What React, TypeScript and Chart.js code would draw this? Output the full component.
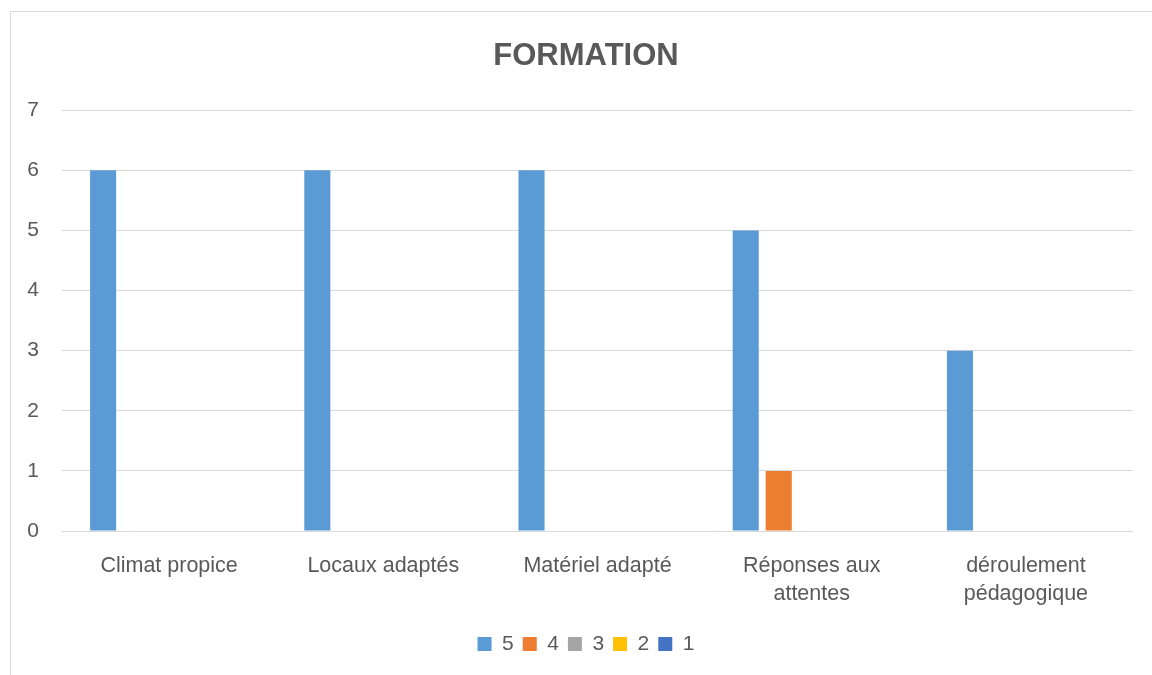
import React, { useEffect, useRef } from "react";
import { Chart, registerables } from "chart.js";

Chart.register(...registerables);

const categories: (string | string[])[] = [
  "Climat propice",
  "Locaux adaptés",
  "Matériel adapté",
  ["Réponses aux", "attentes"],
  ["déroulement", "pédagogique"],
];
const seriesNames = ["5", "4", "3", "2", "1"];
const values5 = [6, 6, 6, 5, 3];
const values4 = [0, 0, 0, 1, 0];
const values3 = [0, 0, 0, 0, 0];
const values2 = [0, 0, 0, 0, 0];
const values1 = [0, 0, 0, 0, 0];
const seriesColors = ["#5B9BD5", "#ED7D31", "#A5A5A5", "#FFC000", "#4472C4"];
const titleText = "FORMATION";

const FONT = "'Liberation Sans', Arial, sans-serif";
const TEXT = "#595959";

export default function App() {
  const ref = useRef<HTMLCanvasElement | null>(null);
  useEffect(() => {
    if (!ref.current) return;
    const all = [values5, values4, values3, values2, values1];
    const chart = new Chart(ref.current, {
      type: "bar",
      data: {
        labels: categories,
        datasets: all.map((v, i) => ({
          label: seriesNames[i],
          data: v,
          backgroundColor: seriesColors[i],
          borderWidth: 0,
          categoryPercentage: 0.77,
          barPercentage: 0.79,
          yAxisID: "y",
        })),
      },
      options: {
        animation: false,
        responsive: false,
        devicePixelRatio: 1,
        layout: { padding: { left: 0, right: 0, top: 0, bottom: 27.5 } },
        plugins: {
          title: {
            display: true,
            text: titleText,
            color: TEXT,
            font: { family: FONT, size: 31, weight: "bold", lineHeight: 1.2 },
            padding: { top: 26, bottom: 35 },
          },
          legend: {
            display: true,
            position: "bottom",
            labels: {
              color: TEXT,
              font: { family: FONT, size: 21 },
              boxWidth: 14,
              boxHeight: 14,
              padding: 9,
            },
          },
          tooltip: { enabled: false },
        },
        scales: {
          x: {
            grid: { display: false },
            border: { display: false },
            ticks: {
              color: TEXT,
              font: { family: FONT, size: 21.5, lineHeight: 1.3 },
              padding: 13,
              autoSkip: false,
              maxRotation: 0,
              minRotation: 0,
            },
            afterFit: (s: any) => {
              s.height = 93.5;
            },
          },
          y: {
            position: "left",
            min: 0,
            max: 7,
            grid: { color: "#D9D9D9", lineWidth: 1, drawTicks: false },
            border: { display: false },
            ticks: {
              stepSize: 1,
              color: TEXT,
              font: { family: FONT, size: 21 },
              padding: 23,
            },
            afterFit: (s: any) => {
              s.width = 51;
            },
          },
          yRight: {
            position: "right",
            display: true,
            grid: { display: false, drawTicks: false },
            border: { display: false },
            ticks: { display: false },
            afterFit: (s: any) => {
              s.width = 28;
            },
          },
        },
      },
    });
    return () => chart.destroy();
  }, []);

  return (
    <div
      style={{
        position: "fixed",
        left: 0,
        top: 0,
        width: 1152,
        height: 675,
        overflow: "hidden",
        background: "#fff",
      }}
    >
      <div
        style={{
          position: "absolute",
          left: 10,
          top: 11,
          width: 1152,
          height: 682,
          border: "1px solid #D9D9D9",
          boxSizing: "border-box",
        }}
      >
        <canvas
          ref={ref}
          width={1150}
          height={680}
          style={{ position: "absolute", left: 0, top: 0, width: 1150, height: 680 }}
        />
      </div>
    </div>
  );
}
